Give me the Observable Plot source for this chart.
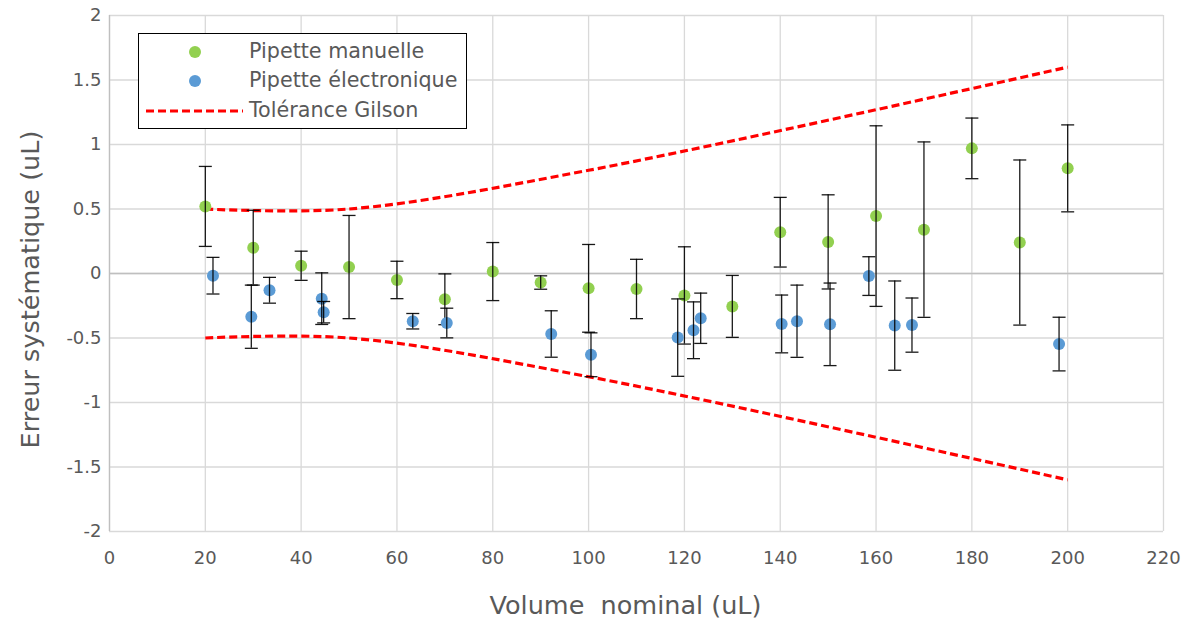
<!DOCTYPE html>
<html>
<head>
<meta charset="utf-8">
<script src="https://cdn.jsdelivr.net/npm/d3@7"></script>
<script src="https://cdn.jsdelivr.net/npm/@observablehq/plot@0.6"></script>
<style>
  body { margin: 0; background: #fff; font-family: "DejaVu Sans", sans-serif; }
  #wrap { position: relative; width: 1189px; height: 620px; }
  #legend { position: absolute; left: 138px; top: 33px; width: 329px; height: 96px;
    border: 1px solid #000; background: #fff; box-sizing: border-box; font-size: 20.7px; color: #595959; }
  .row { position: absolute; left: 0; height: 30px; width: 100%; }
  .row svg { position: absolute; left: 0; top: 0; }
  .row span { position: absolute; left: 110px; top: 0px; line-height: 30px; white-space: nowrap; }
</style>
</head>
<body>
<div id="wrap">
  <div id="chart"></div>
  <div id="legend"></div>
</div>
<script>
const manuelX = [20,30,40,50,60,70,80,90,100,110,120,130,140,150,160,170,180,190,200];
const manuelY = [0.52,0.20,0.06,0.05,-0.05,-0.20,0.015,-0.07,-0.115,-0.12,-0.17,-0.255,0.32,0.245,0.445,0.34,0.97,0.24,0.815];
const manuelErr = [0.31,0.29,0.113,0.40,0.145,0.197,0.225,0.052,0.34,0.23,0.377,0.24,0.27,0.365,0.70,0.68,0.235,0.64,0.337];

const electroX = [21.6,29.6,33.4,44.3,44.7,63.3,70.4,92.2,100.5,118.6,121.9,123.4,140.3,143.5,150.4,158.5,163.9,167.5,198.2];
const electroY = [-0.017,-0.335,-0.13,-0.195,-0.30,-0.37,-0.384,-0.469,-0.63,-0.497,-0.44,-0.347,-0.391,-0.37,-0.394,-0.02,-0.404,-0.40,-0.547];
const electroErr = [0.142,0.245,0.10,0.2,0.083,0.06,0.115,0.18,0.17,0.30,0.22,0.195,0.224,0.28,0.32,0.15,0.346,0.21,0.208];

const tolX = [20,50,100,200];
const tolY = [0.5,0.5,0.8,1.6];

const xTicks = [0,20,40,60,80,100,120,140,160,180,200,220];
const yTicks = [-2,-1.5,-1,-0.5,0,0.5,1,1.5,2];

const seriesNames = ["Pipette manuelle", "Pipette électronique", "Tolérance Gilson"];
const colors = ["#92D050", "#5B9BD5", "#FF0000"];

const manuel = manuelX.map((x, i) => ({x, y: manuelY[i], e: manuelErr[i]}));
const electro = electroX.map((x, i) => ({x, y: electroY[i], e: electroErr[i]}));
const tol = [
  ...tolX.map((x, i) => ({x, y: tolY[i], side: "haut"})),
  ...tolX.map((x, i) => ({x, y: -tolY[i], side: "bas"}))
];

const capSymbol = {
  draw(context) { context.moveTo(-6.5, 0); context.lineTo(6.5, 0); }
};

function errorMarks(data) {
  return [
    Plot.ruleX(data, {x: "x", y1: d => d.y - d.e, y2: d => d.y + d.e, stroke: "#000", strokeWidth: 1.3, strokeOpacity: 0.9}),
    Plot.dot(data, {x: "x", y: d => d.y + d.e, symbol: capSymbol, r: 6, stroke: "#000", fill: "none", strokeWidth: 1.3, strokeOpacity: 0.9}),
    Plot.dot(data, {x: "x", y: d => d.y - d.e, symbol: capSymbol, r: 6, stroke: "#000", fill: "none", strokeWidth: 1.3, strokeOpacity: 0.9})
  ];
}

const chart = Plot.plot({
  width: 1189,
  height: 620,
  marginLeft: 109,
  marginRight: 26,
  marginTop: 15,
  marginBottom: 89,
  style: {fontFamily: "DejaVu Sans, sans-serif", background: "#fff"},
  x: {domain: [0, 220]},
  y: {domain: [-2, 2]},
  marks: [
    Plot.gridX(xTicks, {stroke: "#d9d9d9", strokeOpacity: 1, strokeWidth: 1.3}),
    Plot.gridY(yTicks, {stroke: "#d9d9d9", strokeOpacity: 1, strokeWidth: 1.3}),
    Plot.ruleY([0], {stroke: "#bfbfbf", strokeWidth: 1.3}),
    Plot.ruleX([0], {stroke: "#bfbfbf", strokeWidth: 1.3}),
    Plot.axisX({ticks: xTicks, tickSize: 0, tickPadding: 20, fontSize: 18, color: "#595959", label: null, tickFormat: d => String(d)}),
    Plot.axisY({ticks: yTicks, tickSize: 0, tickPadding: 8, fontSize: 18, color: "#595959", label: null, tickFormat: d => String(d)}),
    Plot.line(tol, {x: "x", y: "y", z: "side", curve: "catmull-rom", stroke: colors[2], strokeWidth: 3.2, strokeDasharray: "8,4", strokeLinecap: "butt"}),
    Plot.dot(manuel, {x: "x", y: "y", r: 6, fill: colors[0]}),
    ...errorMarks(manuel),
    Plot.dot(electro, {x: "x", y: "y", r: 6, fill: colors[1]}),
    ...errorMarks(electro),
    Plot.text(["Volume  nominal (uL)"], {frameAnchor: "bottom", dx: -11, dy: 74, fontSize: 25.5, fill: "#595959", textAnchor: "middle", lineAnchor: "middle"}),
    Plot.text(["Erreur systématique (uL)"], {frameAnchor: "left", dx: -79, dy: 16, rotate: -90, fontSize: 25.5, fill: "#595959", textAnchor: "middle", lineAnchor: "middle"})
  ]
});
document.getElementById("chart").appendChild(chart);

// Legend
const legend = document.getElementById("legend");
const rowTops = [2, 31, 61];
seriesNames.forEach((name, i) => {
  const row = document.createElement("div");
  row.className = "row";
  row.style.top = rowTops[i] + "px";
  const icon = i < 2
    ? `<svg width="110" height="30"><circle cx="56" cy="16" r="6" fill="${colors[i]}"/></svg>`
    : `<svg width="110" height="30"><line x1="7" x2="104" y1="16" y2="16" stroke="${colors[i]}" stroke-width="3.2" stroke-dasharray="8,4"/></svg>`;
  row.innerHTML = icon + `<span>${name}</span>`;
  legend.appendChild(row);
});
</script>
</body>
</html>
